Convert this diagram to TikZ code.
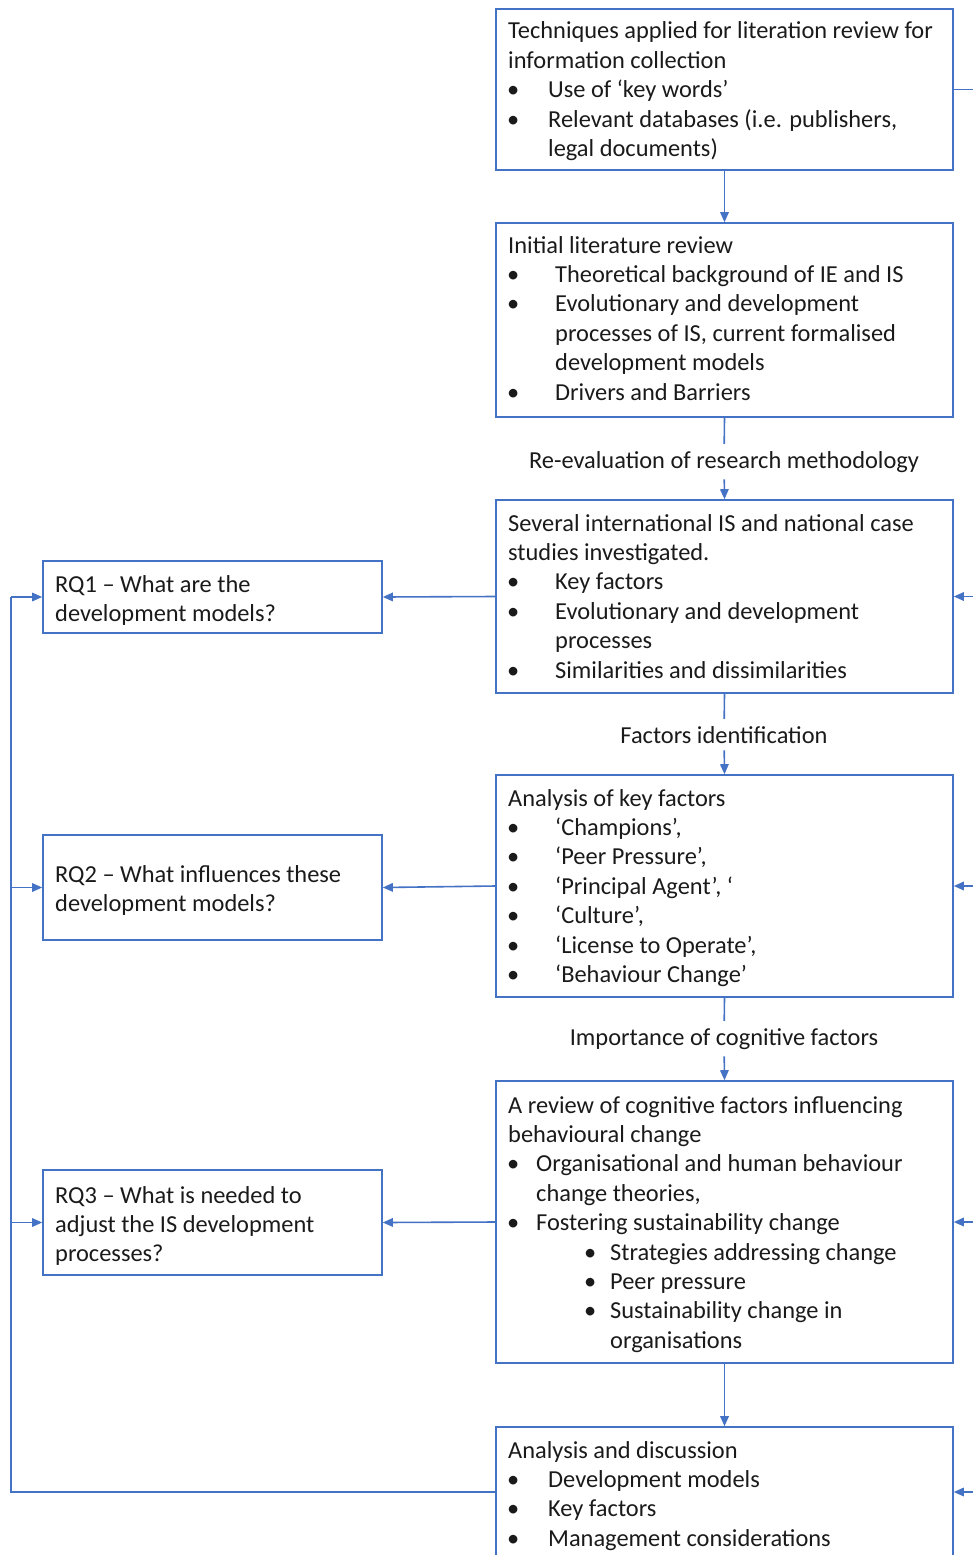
\documentclass[tikz,border=0pt]{standalone}
\usepackage{fontspec}
\setmainfont{Carlito}
\usetikzlibrary{arrows.meta}
\definecolor{edge}{HTML}{4472C4}
\definecolor{ink}{HTML}{1A1A1A}
% one text block: first baseline is the node's base
\newcommand{\blk}[1]{\begin{minipage}[t]{600pt}\fontsize{24.4}{29.4}\selectfont\parindent=0pt\raggedright #1\end{minipage}}
% bullet line: offset of bullet, distance bullet->text, text
\newcommand{\bl}[3]{\par\hspace*{#1}\makebox[#2][l]{\textbullet}#3}
% continuation line of a bullet
\newcommand{\cl}[2]{\par\hspace*{#1}#2}
\begin{document}
\begin{tikzpicture}[x=1pt,y=-1pt,
  box/.style={draw=edge, line width=1.6pt, rectangle, inner sep=0pt},
  conn/.style={draw=edge, line width=1.6pt},
  arr/.style={conn, -{Triangle[length=10pt,width=8.5pt]}},
  txt/.style={anchor=base west, inner sep=0pt, text=ink},
  lab/.style={anchor=base, inner xsep=0pt, inner ysep=7pt, text=ink, font=\fontsize{24.4}{29.4}\selectfont}]
\useasboundingbox (0,0) rectangle (973,1555);
\clip (0,0) rectangle (973,1555);

% process boxes on the right
\node[box, minimum width=457pt, minimum height=161pt] (b1) at (724.5,89.5) {};
\node[box, minimum width=457pt, minimum height=194pt] (b2) at (724.5,320) {};
\node[box, minimum width=457pt, minimum height=193pt] (b3) at (724.5,596.5) {};
\node[box, minimum width=457pt, minimum height=222pt] (b4) at (724.5,886) {};
\node[box, minimum width=457pt, minimum height=282pt] (b5) at (724.5,1222) {};
\node[box, minimum width=457pt, minimum height=130pt] (b6) at (724.5,1492) {};

% research question boxes on the left
\node[box, minimum width=339pt, minimum height=72pt] (rq1) at (212.5,597) {};
\node[box, minimum width=339pt, minimum height=105pt] (rq2) at (212.5,887.5) {};
\node[box, minimum width=339pt, minimum height=105pt] (rq3) at (212.5,1222.5) {};

% box texts
\node[txt] (t1) at (508,39) {\blk{Techniques applied for literation review for
  \par information collection
  \bl{-1pt}{41pt}{Use of ‘key words’}
  \bl{-1pt}{41pt}{Relevant databases (i.e. publishers,}
  \cl{40pt}{legal documents)}}};
\node[txt] (t2) at (508,253) {\blk{Initial literature review
  \bl{-1pt}{48pt}{Theoretical background of IE and IS}
  \bl{-1pt}{48pt}{Evolutionary and development}
  \cl{47pt}{processes of IS, current formalised}
  \cl{47pt}{development models}
  \bl{-1pt}{48pt}{Drivers and Barriers}}};
\node[txt] (t3) at (508,531) {\blk{Several international IS and national case
  \par studies investigated.
  \bl{-1pt}{48pt}{Key factors}
  \bl{-1pt}{48pt}{Evolutionary and development}
  \cl{47pt}{processes}
  \bl{-1pt}{48pt}{Similarities and dissimilarities}}};
\node[txt] (t4) at (508,806) {\blk{Analysis of key factors
  \bl{-1pt}{48pt}{‘Champions’,}
  \bl{-1pt}{48pt}{‘Peer Pressure’,}
  \bl{-1pt}{48pt}{‘Principal Agent’, ‘}
  \bl{-1pt}{48pt}{‘Culture’,}
  \bl{-1pt}{48pt}{‘License to Operate’,}
  \bl{-1pt}{48pt}{‘Behaviour Change’}}};
\node[txt] (t5) at (508,1113) {\blk{A review of cognitive factors influencing
  \par behavioural change
  \bl{-1pt}{29pt}{Organisational and human behaviour}
  \cl{28pt}{change theories,}
  \bl{-1pt}{29pt}{Fostering sustainability change}
  \bl{76pt}{26pt}{Strategies addressing change}
  \bl{76pt}{26pt}{Peer pressure}
  \bl{76pt}{26pt}{Sustainability change in}
  \cl{102pt}{organisations}}};
\node[txt] (t6) at (508,1458) {\blk{Analysis and discussion
  \bl{-1pt}{41pt}{Development models}
  \bl{-1pt}{41pt}{Key factors}
  \bl{-1pt}{41pt}{Management considerations}}};

\node[txt] (q1) at (55,592) {\blk{RQ1 – What are the
  \par development models?}};
\node[txt] (q2) at (55,882) {\blk{RQ2 – What influences these
  \par development models?}};
\node[txt] (q3) at (55,1203) {\blk{RQ3 – What is needed to
  \par adjust the IS development
  \par processes?}};

% labels on the main flow
\node[lab] (l1) at (724,468) {Re-evaluation of research methodology};
\node[lab] (l2) at (724,743) {Factors identification};
\node[lab] (l3) at (724,1045) {Importance of cognitive factors};

% main flow
\draw[arr] (b1.south) -- (b2.north);
\draw[conn] (b2.south) -- (l1);
\draw[arr] (l1) -- (b3.north);
\draw[conn] (b3.south) -- (l2);
\draw[arr] (l2) -- (b4.north);
\draw[conn] (b4.south) -- (l3);
\draw[arr] (l3) -- (b5.north);
\draw[arr] (b5.south) -- (b6.north);

% from the process to the research questions
\draw[arr] (b3.west) -- (rq1.east);
\draw[arr] (b4.west) -- (rq2.east);
\draw[arr] (b5.west) -- (rq3.east);

% feedback loop on the left
\coordinate (w1) at (11,597);
\coordinate (w2) at (11,887.5);
\coordinate (w3) at (11,1222.5);
\coordinate (w6) at (11,1492);
\draw[conn] (b6.west) -- (w6) -- (w1);
\draw[arr] (w1) -- (rq1.west);
\draw[arr] (w2) -- (rq2.west);
\draw[arr] (w3) -- (rq3.west);

% links leaving and entering on the right
\coordinate (e1) at (990,89.5);
\coordinate (e3) at (990,596.5);
\coordinate (e4) at (990,886);
\coordinate (e5) at (990,1222);
\coordinate (e6) at (990,1492);
\draw[conn] (b1.east) -- (e1);
\draw[arr] (e3) -- (b3.east);
\draw[arr] (e4) -- (b4.east);
\draw[arr] (e5) -- (b5.east);
\draw[arr] (e6) -- (b6.east);
\end{tikzpicture}
\end{document}
